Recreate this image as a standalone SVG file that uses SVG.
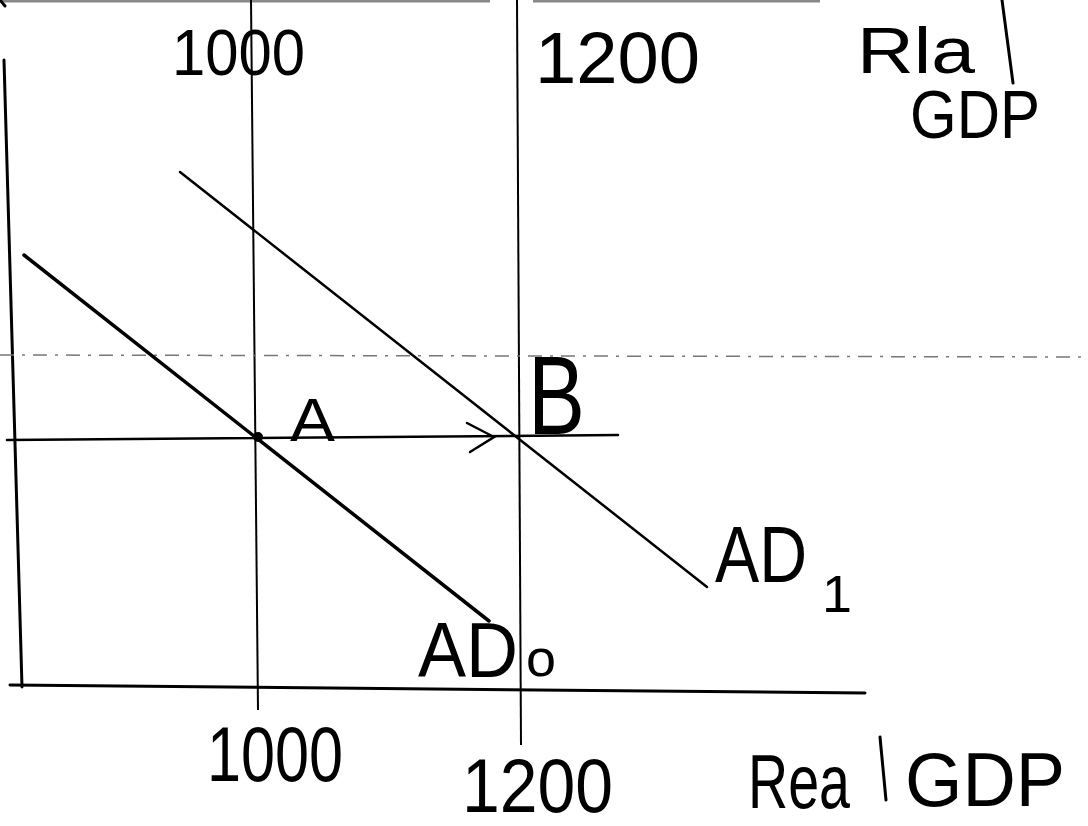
<svg xmlns="http://www.w3.org/2000/svg" width="1088" height="826" viewBox="0 0 1088 826">
<style>
.ax{stroke:#000;stroke-width:3;fill:none;stroke-linecap:round}
.gl{stroke:#000;stroke-width:2;fill:none}
.cv{stroke:#000;fill:none;stroke-linecap:round}
.t{font-family:"Liberation Sans","DejaVu Sans",sans-serif;fill:#000}
</style>
<rect width="1088" height="826" fill="#fff"/>
<g id="frame">
<line x1="0" y1="1" x2="490" y2="1" stroke="#888" stroke-width="3"/>
<line x1="533" y1="1" x2="820" y2="1" stroke="#888" stroke-width="3"/>
<line x1="0" y1="0" x2="5" y2="6" class="ax"/>
</g>
<g id="axes">
<line x1="4" y1="60" x2="22" y2="687" class="ax"/>
<line x1="10" y1="685" x2="865" y2="693" class="ax"/>
</g>
<g id="guides">
<line x1="251" y1="0" x2="258" y2="710" class="gl"/>
<line x1="517" y1="0" x2="521" y2="745" class="gl"/>
<line x1="0" y1="355" x2="1088" y2="357" stroke="#777" stroke-width="1.5" stroke-dasharray="14 8 3 8"/>
<line x1="1002" y1="0" x2="1013" y2="83" class="ax"/>
<line x1="880" y1="737" x2="886" y2="800" class="ax"/>
</g>
<g id="connectors">
<line x1="7" y1="440" x2="618" y2="435" class="cv" stroke-width="2.5"/>
<polyline points="467,423 494,437 470,452" class="cv" stroke-width="2.5"/>
<line x1="24" y1="255" x2="489" y2="621" class="cv" stroke-width="3.5"/>
<line x1="180" y1="172" x2="707" y2="587" class="cv" stroke-width="2.5"/>
</g>
<g id="pointA">
<circle cx="258" cy="437" r="5" fill="#000"/>
<text x="290" y="441" class="t" font-size="62" textLength="45" lengthAdjust="spacingAndGlyphs">A</text>
</g>
<g id="pointB">
<text x="528" y="434" class="t" font-size="112" textLength="57" lengthAdjust="spacingAndGlyphs">B</text>
</g>
<g id="labelAD1">
<text x="715" y="582" class="t" font-size="80" textLength="92" lengthAdjust="spacingAndGlyphs">AD</text>
<text x="822" y="612" class="t" font-size="52" textLength="30" lengthAdjust="spacingAndGlyphs">1</text>
</g>
<g id="labelAD0">
<text x="418" y="677" class="t" font-size="78" textLength="100" lengthAdjust="spacingAndGlyphs">AD</text>
<text x="526" y="676" class="t" font-size="52" textLength="30" lengthAdjust="spacingAndGlyphs">o</text>
</g>
<g id="topLabels">
<text x="172" y="75" class="t" font-size="64" textLength="133" lengthAdjust="spacingAndGlyphs">1000</text>
<text x="535" y="83" class="t" font-size="72" textLength="165" lengthAdjust="spacingAndGlyphs">1200</text>
<text x="857" y="73" class="t" font-size="64" textLength="118" lengthAdjust="spacingAndGlyphs">Rla</text>
<text x="910" y="138" class="t" font-size="68" textLength="130" lengthAdjust="spacingAndGlyphs">GDP</text>
</g>
<g id="bottomLabels">
<text x="207" y="781" class="t" font-size="78" textLength="136" lengthAdjust="spacingAndGlyphs">1000</text>
<text x="462" y="812" class="t" font-size="76" textLength="151" lengthAdjust="spacingAndGlyphs">1200</text>
<text x="748" y="808" class="t" font-size="76" textLength="102" lengthAdjust="spacingAndGlyphs">Rea</text>
<text x="905" y="806" class="t" font-size="76" textLength="160" lengthAdjust="spacingAndGlyphs">GDP</text>
</g>
</svg>
